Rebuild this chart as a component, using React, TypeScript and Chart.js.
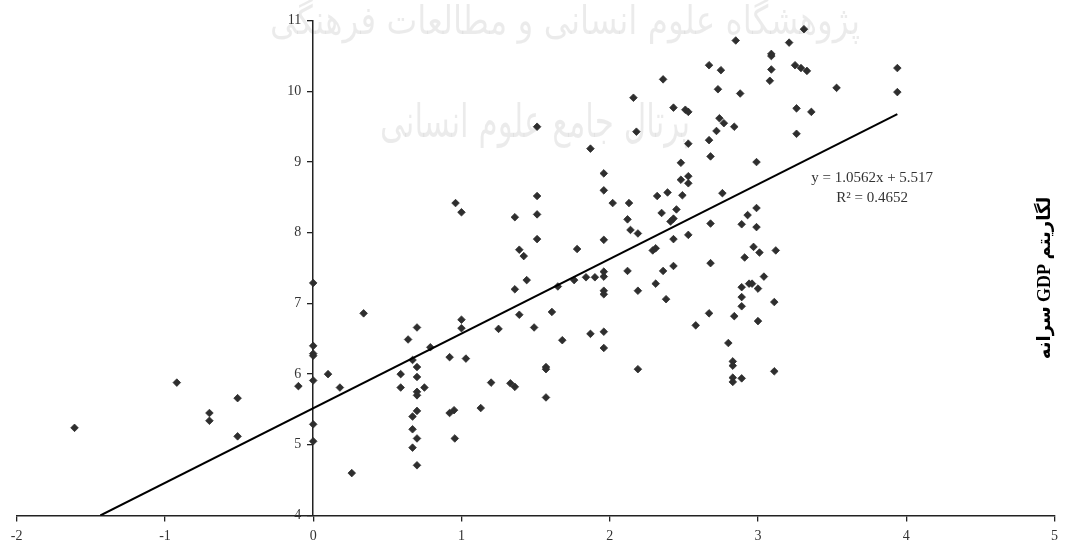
import React, { useEffect, useRef } from "react";
import { Chart, registerables } from "chart.js";

Chart.register(...registerables);

// Scatter observations (x, y)
const pointX = [
  -1.61, -0.92, -0.7, -0.7, -0.51, -0.51, -0.1,
  0, 0, 0, 0, 0, 0, 0,
  0.1, 0.18, 0.26, 0.34,
  0.64, 0.7, 0.67, 0.7, 0.59, 0.7, 0.59, 0.7, 0.7, 0.75, 0.7, 0.67, 0.67, 0.7, 0.67, 0.7, 0.79,
  0.92, 0.92, 0.95, 0.955, 1.0, 1.0, 1.03, 0.96, 1.0,
  1.13, 1.2, 1.25, 1.33, 1.36, 1.36, 1.39, 1.44, 1.49, 1.57, 1.57, 1.57, 1.61, 1.65, 1.68, 1.36, 1.51, 1.51, 1.51, 1.39, 1.42, 1.51,
  1.76, 1.78, 1.84, 1.87, 1.87, 1.9, 1.96, 1.96, 1.96, 1.96, 1.96, 1.96, 1.96, 1.96, 1.96,
  2.02, 2.13, 2.12, 2.14, 2.19, 2.12, 2.19, 2.19, 2.16, 2.18, 2.29, 2.31, 2.31, 2.32, 2.35, 2.36, 2.38, 2.36, 2.39, 2.41, 2.43, 2.43, 2.43, 2.43,
  2.45, 2.48, 2.48, 2.49, 2.53, 2.53, 2.53, 2.51, 2.53, 2.58, 2.67, 2.67, 2.68, 2.68, 2.68, 2.67, 2.72, 2.73, 2.74, 2.77, 2.75, 2.76, 2.8, 2.53,
  2.83, 2.83, 2.83, 2.83, 2.84, 2.84, 2.85, 2.88, 2.89, 2.89, 2.89, 2.89, 2.89, 2.91, 2.93, 2.94, 2.96, 2.97, 2.99, 2.99, 2.99, 3.0, 3.0, 3.01, 3.04, 3.08, 3.09, 3.09, 3.09, 3.11, 3.11, 3.12,
  3.21, 3.25, 3.26, 3.26, 3.29, 3.31, 3.33, 3.36, 3.53, 3.94, 3.94,
];

const pointY = [
  5.24, 5.88, 5.45, 5.34, 5.66, 5.12, 5.83,
  7.29, 6.4, 6.29, 6.26, 5.91, 5.29, 5.05,
  6.0, 5.81, 4.6, 6.86,
  6.49, 6.66, 6.2, 6.1, 6.0, 5.96, 5.81, 5.75, 5.7, 5.81, 5.48, 5.4, 5.22, 5.09, 4.96, 4.71, 6.38,
  6.24, 5.45, 5.49, 5.09, 6.77, 6.65, 6.22, 8.42, 8.29,
  5.52, 5.88, 6.64, 5.87, 5.82, 7.2, 6.84, 7.33, 6.66, 6.1, 6.07, 5.67, 6.88, 7.24, 6.48, 8.22, 8.52, 8.26, 7.91, 7.76, 7.67, 9.5,
  7.33, 7.77, 7.37, 6.57, 9.19, 7.37, 7.45, 7.38, 7.18, 7.13, 6.6, 6.37, 7.9, 8.84, 8.6,
  8.42, 8.42, 8.19, 8.04, 7.99, 7.46, 7.18, 6.07, 9.91, 9.43, 7.75, 7.78, 7.28, 8.52, 8.28, 7.46, 7.06, 10.17, 8.57, 8.16, 8.2, 7.91, 7.53, 9.77,
  8.33, 8.99, 8.75, 8.53, 8.8, 9.26, 7.97, 9.74, 9.71, 6.69, 10.37, 9.31, 9.08, 8.13, 7.57, 6.86, 9.44, 10.03, 9.62, 9.55, 10.3, 8.56, 6.44, 8.7,
  6.18, 6.12, 5.95, 5.89, 6.82, 9.5, 10.72, 9.97, 8.12, 7.23, 7.09, 6.96, 5.94, 7.65, 8.25, 7.28, 7.28, 7.8, 8.35, 8.08, 9.0, 7.21, 6.75, 7.72, 7.38, 10.15, 10.53, 10.5, 10.31, 7.02, 6.04, 7.75,
  10.69, 10.37, 9.76, 9.4, 10.33, 10.88, 10.29, 9.71, 10.05, 10.33, 9.99,
];

// Fitted linear trend (from the equation shown on the chart)
const trendSlope = 1.0562;
const trendIntercept = 5.517;
const trendXEnds = [-1.436, 3.94];

const equationLines = ["y = 1.0562x + 5.517", "R² = 0.4652"];
const yAxisTitle = "لگاریتم GDP سرانه";
const watermarkLines = ["پژوهشگاه علوم انسانی و مطالعات فرهنگی", "پرتال جامع علوم انسانی"];

const xRange = [-2, 5];
const yRange = [4, 11];

const textPlugin = {
  id: "textPlugin",
  beforeDatasetsDraw(chart: any) {
    const ctx = chart.ctx;
    ctx.save();
    ctx.fillStyle = "rgba(0,0,0,0.08)";
    ctx.textAlign = "center";
    ctx.textBaseline = "middle";
    (ctx as any).direction = "rtl";
    ctx.font = '40px "DejaVu Sans"';
    ctx.fillText(watermarkLines[0], 565, 24, 590);
    ctx.font = '46px "DejaVu Sans"';
    ctx.fillText(watermarkLines[1], 535, 125, 310);
    ctx.restore();
  },
  afterDraw(chart: any) {
    const ctx = chart.ctx;
    const xs = chart.scales.x;
    const ys = chart.scales.y;

    // y-axis tick labels, left of the vertical axis (which sits at x = 0)
    ctx.save();
    ctx.fillStyle = "#333";
    ctx.textAlign = "right";
    ctx.textBaseline = "middle";
    ctx.font = '14px "Liberation Serif"';
    const axisX = xs.getPixelForValue(0);
    ys.ticks.forEach((t: any) => {
      ctx.fillText(String(t.value), axisX - 12, ys.getPixelForValue(t.value));
    });
    ctx.restore();

    ctx.save();
    ctx.fillStyle = "#333";
    ctx.textAlign = "center";
    ctx.textBaseline = "middle";
    ctx.font = '15px "Liberation Serif"';
    const ex = xs.getPixelForValue(3.77);
    const ey = ys.getPixelForValue(8.77);
    ctx.fillText(equationLines[0], ex, ey);
    ctx.fillText(equationLines[1], ex, ey + 19.5);
    ctx.restore();

    ctx.save();
    ctx.fillStyle = "#000";
    ctx.translate(1045, 278);
    ctx.rotate(-Math.PI / 2);
    ctx.textAlign = "center";
    ctx.textBaseline = "middle";
    (ctx as any).direction = "rtl";
    ctx.font = 'bold 18px "Liberation Serif", "DejaVu Sans"';
    ctx.fillText(yAxisTitle, 0, 0, 180);
    ctx.restore();
  },
};

export default function App() {
  const canvasRef = useRef<HTMLCanvasElement | null>(null);

  useEffect(() => {
    document.body.style.margin = "0";
    const canvas = canvasRef.current;
    if (!canvas) return;
    const scatterData = pointX.map((x, i) => ({ x, y: pointY[i] }));
    const trendData = trendXEnds.map((x) => ({ x, y: trendSlope * x + trendIntercept }));
    const tickFont = { family: "Liberation Serif", size: 14 };

    const chart = new Chart(canvas, {
      type: "scatter",
      data: {
        datasets: [
          {
            type: "line",
            label: "trend",
            data: trendData,
            borderColor: "#000",
            borderWidth: 2,
            pointRadius: 0,
            fill: false,
            order: 0,
          } as any,
          {
            label: "data",
            data: scatterData,
            pointStyle: "rectRot",
            pointRadius: 3.8,
            pointBackgroundColor: "#2e2e2e",
            pointBorderColor: "#2e2e2e",
            pointBorderWidth: 0.8,
            order: 1,
          },
        ],
      },
      options: {
        animation: false,
        responsive: false,
        devicePixelRatio: 1,
        layout: { padding: { left: 16.7, right: 9, top: 20.7, bottom: 28.5 } },
        plugins: {
          legend: { display: false },
          tooltip: { enabled: false },
          title: { display: false },
        },
        scales: {
          x: {
            type: "linear",
            position: { y: 4 } as any,
            min: xRange[0],
            max: xRange[1],
            grid: { drawOnChartArea: false, tickLength: 5, color: "#222", lineWidth: 1.3 },
            border: { display: true, color: "#222", width: 1.5 },
            ticks: { stepSize: 1, color: "#333", font: tickFont, padding: 7, autoSkip: false },
          },
          y: {
            type: "linear",
            position: { x: 0 } as any,
            min: yRange[0],
            max: yRange[1],
            grid: { drawOnChartArea: false, tickLength: 5, color: "#222", lineWidth: 1.3 },
            border: { display: true, color: "#222", width: 1.5 },
            ticks: { stepSize: 1, display: false, autoSkip: false },
          },
        },
      },
      plugins: [textPlugin],
    });

    return () => chart.destroy();
  }, []);

  return (
    <div style={{ width: 1065, height: 544, background: "#fff" }}>
      <canvas ref={canvasRef} width={1065} height={544} style={{ display: "block" }} />
    </div>
  );
}
